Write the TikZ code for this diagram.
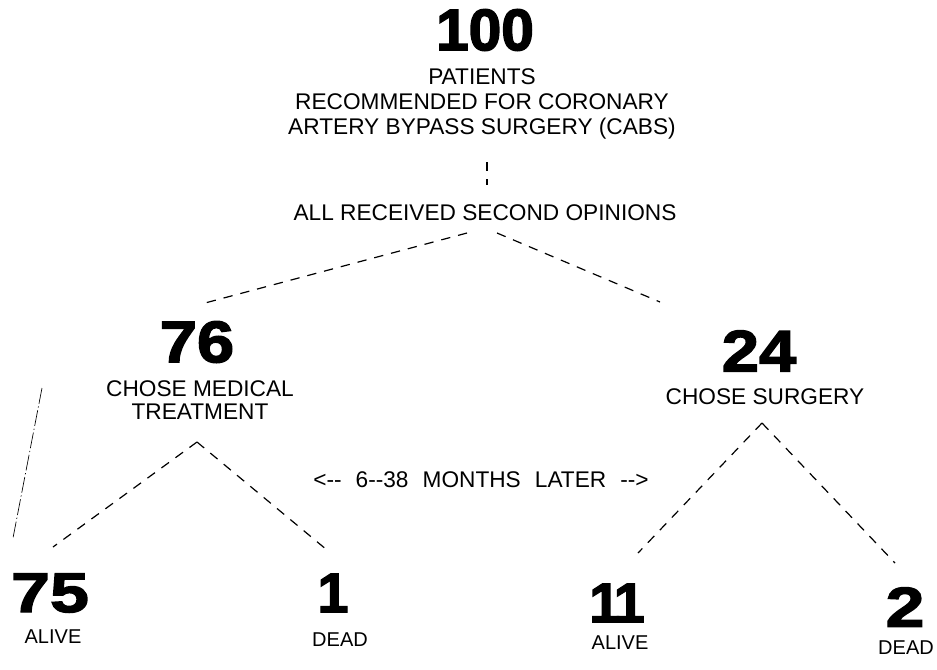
\documentclass[tikz,border=0pt]{standalone}
\usepackage{fontspec}
\setmainfont{Liberation Sans}
\newfontface\heavy{Liberation Sans Bold}[FakeBold=2.5]

\tikzset{
  num/.style={inner sep=0pt, font=\heavy\fontsize{44}{44}\selectfont},
  widenum/.style={inner sep=0pt, font=\heavy\fontsize{44}{44}\selectfont\addfontfeature{FakeStretch=1.14}},
  leafnum/.style={inner sep=0pt, font=\heavy\fontsize{42}{42}\selectfont\addfontfeature{FakeStretch=1.25}},
  onenum/.style={inner sep=0pt, font=\heavy\fontsize{42}{42}\selectfont},
  lbl/.style={inner sep=0pt, align=center, font=\fontsize{17}{18}\selectfont},
  leaflbl/.style={inner sep=0pt, font=\fontsize{15}{16}\selectfont},
  dashline/.style={line width=0.9pt, dash pattern=on 7pt off 6pt},
  markline/.style={line width=0.5pt, dash pattern=on 12pt off 2pt on 1pt off 2pt},
}

\begin{document}
\begin{tikzpicture}[x=0.75pt, y=-0.75pt]
  \useasboundingbox (0,0) rectangle (937,669);
  % root of the tree
  \node[num] (n100) at (485,30) {100};
  \node[lbl, font=\fontsize{17}{19}\selectfont] (cabs) at (482,104)
    {PATIENTS\\RECOMMENDED FOR CORONARY\\ARTERY BYPASS SURGERY (CABS)};
  \node[lbl] (opin) at (485,213) {ALL RECEIVED SECOND OPINIONS};
  % second level
  \node[widenum] (n76) at (197,342) {76};
  \node[lbl, font=\fontsize{17}{17.3}\selectfont] (med) at (200,400) {CHOSE MEDICAL\\TREATMENT};
  \node[widenum] (n24) at (759,351) {24};
  \node[lbl] (surg) at (765,397) {CHOSE SURGERY};
  \node[lbl] (later) at (481,480)
    {\spaceskip=0.62em\relax <-{}- 6-{}-38 MONTHS LATER -{}->};
  % outcomes
  \node[leafnum] (n75) at (50,593) {75};
  \node[leaflbl] (alive1) at (53,637) {ALIVE};
  \node[onenum] (n1) at (333,593) {1};
  \node[leaflbl] (dead1) at (340,640) {DEAD};
  \node[onenum] (n11) at (617,603) {1\kern-5pt1};
  \node[leaflbl] (alive2) at (620,643) {ALIVE};
  \node[leafnum] (n2) at (905,607) {2};
  \node[leaflbl] (dead2) at (906,648) {DEAD};

  % branch points
  \coordinate (v1) at (487,162);
  \coordinate (v2) at (487,185);
  \coordinate (s0l) at (467,233);
  \coordinate (s0r) at (497,233);
  \coordinate (e76) at (205,303);
  \coordinate (e24) at (660,302);
  \coordinate (fmed) at (197,442);
  \coordinate (e75) at (53,547);
  \coordinate (e1) at (327,550);
  \coordinate (fsurg) at (762,423);
  \coordinate (e11) at (638,553);
  \coordinate (e2) at (895,563);
  \coordinate (m1) at (42,388);
  \coordinate (m2) at (13,538);

  \draw[dashline] (v1) -- (v2);
  \draw[dashline] (s0l) -- (e76);
  \draw[dashline] (s0r) -- (e24);
  \draw[dashline] (fmed) -- (e75);
  \draw[dashline] (fmed) -- (e1);
  \draw[dashline] (fsurg) -- (e11);
  \draw[dashline] (fsurg) -- (e2);
  \draw[markline] (m1) -- (m2);
\end{tikzpicture}
\end{document}
